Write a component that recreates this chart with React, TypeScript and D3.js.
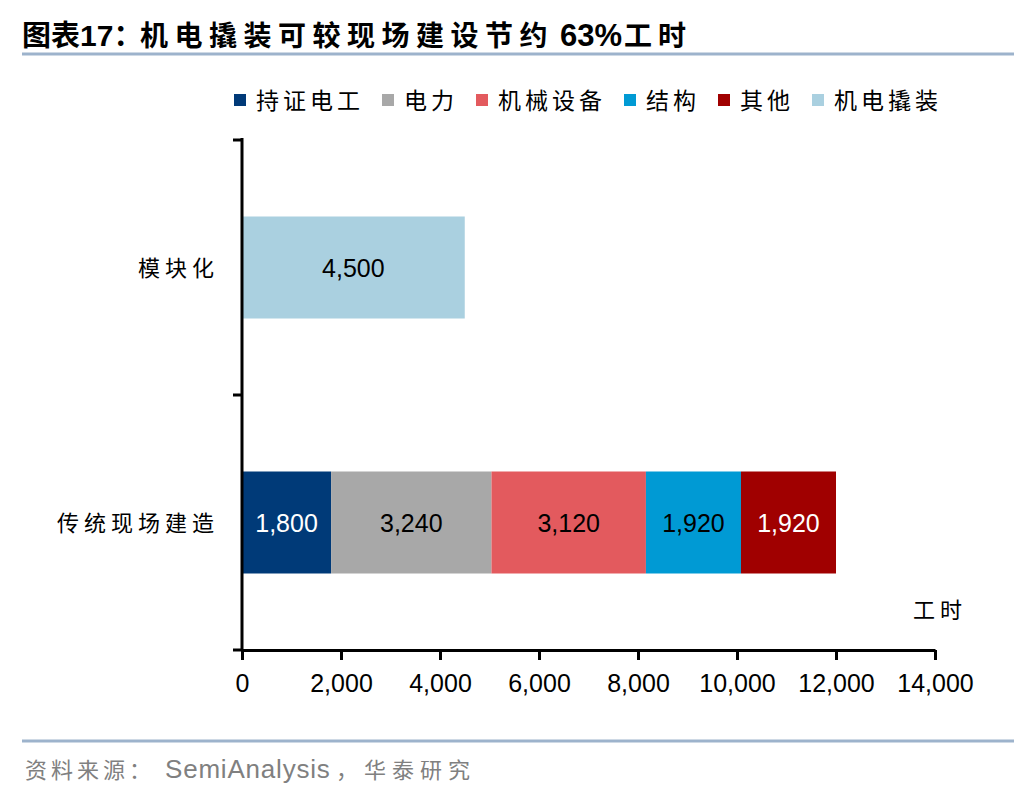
import React, { useEffect, useRef } from "react"
import * as d3 from "d3"

// chart data
const categories = ["模块化", "传统现场建造"]
const seriesNames = ["持证电工", "电力", "机械设备", "结构", "其他", "机电撬装"]
const modularValues = [0, 0, 0, 0, 0, 4500]
const traditionalValues = [1800, 3240, 3120, 1920, 1920, 0]
const xTicks = [0, 2000, 4000, 6000, 8000, 10000, 12000, 14000]

const colors = ["#003a78", "#a8a8a8", "#e35a5e", "#009ad4", "#a00000", "#aad0e0"]
const labelColors = ["#fff", "#000", "#000", "#000", "#fff", "#000"]

const W = 1036
const H = 792
const cjk = "'Noto Sans CJK SC', 'Noto Sans', sans-serif"
const latin = "'Liberation Sans', Arial, sans-serif"

type Row = { cat: string; [k: string]: number | string }

const App: React.FC = () => {
    const ref = useRef<SVGSVGElement>(null)

    useEffect(() => {
        const svg = d3.select(ref.current)
        svg.selectAll("*").remove()

        const rows: Row[] = categories.map((cat, i) => {
            const vals = i === 0 ? modularValues : traditionalValues
            const r: Row = { cat }
            seriesNames.forEach((s, j) => (r[s] = vals[j]))
            return r
        })

        const x = d3.scaleLinear().domain([0, 14000]).range([242, 935])
        const y = d3.scaleBand<string>().domain(categories).range([140, 650]).paddingInner(0.6).paddingOuter(0.3)

        const stack = d3.stack<Row>().keys(seriesNames).value((d, k) => d[k] as number)
        const layers = stack(rows)

        // title
        const title = svg.append("text")
            .attr("y", 46)
            .attr("font-family", cjk).attr("font-weight", "bold").attr("font-size", 29)
        title.append("tspan").attr("x", 22).text("图表")
        title.append("tspan").attr("font-family", latin).attr("font-size", 30).text("17")
        title.append("tspan").text("：")
        title.append("tspan").attr("x", 140).attr("font-size", 28).attr("letter-spacing", 6.5).text("机电撬装可较现场建设节约")
        title.append("tspan").attr("x", 560).attr("font-family", latin).attr("font-size", 31).text("63%")
        title.append("tspan").attr("x", 624).attr("font-size", 28).attr("letter-spacing", 6).text("工时")
        svg.append("line")
            .attr("x1", 22).attr("x2", 1014).attr("y1", 54).attr("y2", 54)
            .attr("stroke", "#9db3cc").attr("stroke-width", 3)

        // legend
        const legend = svg.append("g")
        let lx = 234
        seriesNames.forEach((s, i) => {
            legend.append("rect").attr("x", lx).attr("y", 94).attr("width", 12).attr("height", 12).attr("fill", colors[i])
            legend.append("text")
                .attr("x", lx + 22).attr("y", 109)
                .attr("font-family", cjk).attr("font-size", 23).attr("letter-spacing", 4)
                .text(s)
            lx += 22 + s.length * 27 + 18
        })

        // bars
        layers.forEach((layer, i) => {
            const g = svg.append("g")
            layer.forEach((seg) => {
                const v = seg[1] - seg[0]
                if (v <= 0) return
                const cy = y(seg.data.cat as string)!
                g.append("rect")
                    .attr("x", x(seg[0])).attr("y", cy)
                    .attr("width", x(seg[1]) - x(seg[0])).attr("height", y.bandwidth())
                    .attr("fill", colors[i])
                g.append("text")
                    .attr("x", (x(seg[0]) + x(seg[1])) / 2).attr("y", cy + y.bandwidth() / 2 + 9)
                    .attr("text-anchor", "middle")
                    .attr("font-family", latin).attr("font-size", 25)
                    .attr("fill", labelColors[i])
                    .text(d3.format(",")(v))
            })
        })

        // x axis
        const xAxis = svg.append("g")
            .attr("transform", "translate(0,650)")
            .call(d3.axisBottom(x).tickValues(xTicks).tickSize(10).tickSizeOuter(0).tickFormat((d) => d3.format(",")(d as number)))
        xAxis.select(".domain").attr("stroke", "#000").attr("stroke-width", 3)
        xAxis.selectAll(".tick line").attr("stroke", "#000").attr("stroke-width", 3)
        xAxis.selectAll(".tick text")
            .attr("font-family", latin).attr("font-size", 25).attr("fill", "#000").attr("dy", "1.15em")

        // y axis
        const yg = svg.append("g")
        yg.append("line").attr("x1", 242).attr("x2", 242).attr("y1", 138).attr("y2", 651)
            .attr("stroke", "#000").attr("stroke-width", 3)
        const boundaries = [0, 1, 2].map((k) => 140 + k * y.step())
        boundaries.forEach((b) => {
            yg.append("line").attr("x1", 233).attr("x2", 242).attr("y1", b).attr("y2", b)
                .attr("stroke", "#000").attr("stroke-width", 3)
        })
        categories.forEach((c) => {
            yg.append("text")
                .attr("x", 219).attr("y", y(c)! + y.bandwidth() / 2 + 8)
                .attr("text-anchor", "end")
                .attr("font-family", cjk).attr("font-size", 22).attr("letter-spacing", 5)
                .text(c)
        })

        // unit
        svg.append("text")
            .attr("x", 913).attr("y", 618)
            .attr("font-family", cjk).attr("font-size", 22).attr("letter-spacing", 5)
            .text("工时")

        // footer
        svg.append("line")
            .attr("x1", 22).attr("x2", 1014).attr("y1", 741).attr("y2", 741)
            .attr("stroke", "#9db3cc").attr("stroke-width", 3)
        const foot = svg.append("text")
            .attr("y", 778)
            .attr("font-family", cjk).attr("font-size", 22).attr("fill", "#808080")
        foot.append("tspan").attr("x", 25).attr("letter-spacing", 4).text("资料来源：")
        foot.append("tspan").attr("x", 165).attr("font-family", latin).attr("font-size", 26).attr("letter-spacing", 0.8).text("SemiAnalysis")
        foot.append("tspan").attr("x", 336).attr("letter-spacing", 6).text("，华泰研究")
    }, [])

    return <svg ref={ref} width={W} height={H} style={{ position: "absolute", left: 0, top: 0, background: "#fff" }} />
}

export default App
